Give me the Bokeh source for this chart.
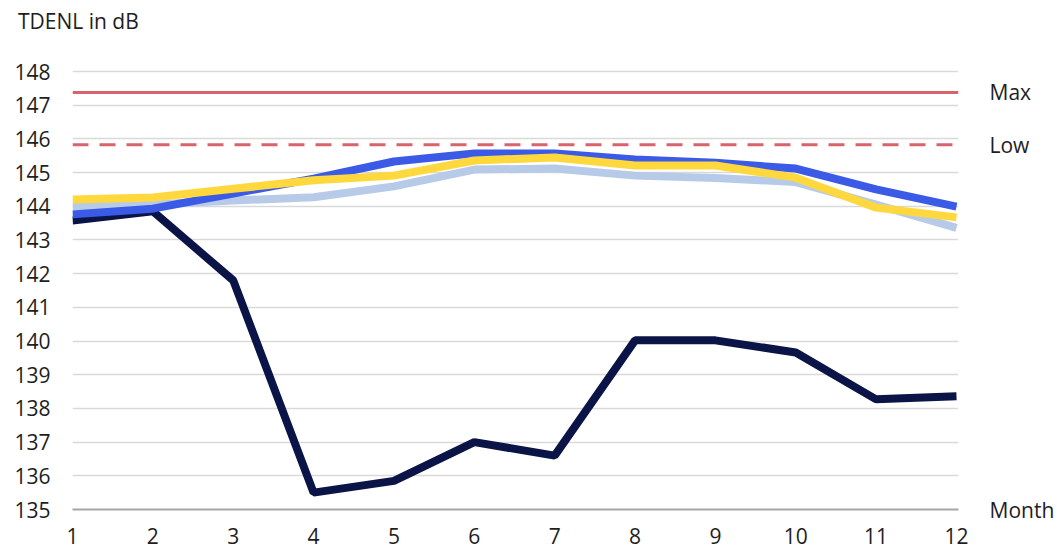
from bokeh.plotting import figure
from bokeh.models import Range1d, FixedTicker, Span, LinearAxis, Div
from bokeh.layouts import column
from bokeh.embed import file_html
from bokeh.resources import INLINE

FONT = "Open Sans"
TXT = "#1e1e1e"

title_text = "TDENL in dB"
months = [1, 2, 3, 4, 5, 6, 7, 8, 9, 10, 11, 12]
y_ticks = [135, 136, 137, 138, 139, 140, 141, 142, 143, 144, 145, 146, 147, 148]

navy = [143.58, 143.85, 141.8, 135.5, 135.85, 137.0, 136.6, 140.02, 140.02, 139.66, 138.27, 138.36]
light_blue = [143.99, 144.05, 144.17, 144.27, 144.59, 145.09, 145.12, 144.91, 144.84, 144.72, 144.05, 143.36]
blue = [143.76, 143.93, 144.38, 144.82, 145.33, 145.57, 145.57, 145.39, 145.29, 145.12, 144.5, 143.99]
yellow = [144.2, 144.26, 144.52, 144.77, 144.91, 145.36, 145.45, 145.21, 145.21, 144.85, 143.96, 143.67]

max_level = 147.38
low_level = 145.83
right_labels = {147.38: "Max", 145.83: "Low", 135: "Month"}

head = Div(text=f'<div style="margin:7px 0 0 18px; font-family:\'{FONT}\'; font-size:21px; '
                f'line-height:normal; color:{TXT}; white-space:nowrap;">{title_text}</div>',
           width=1057, height=40, margin=0)

p = figure(width=1057, height=510, output_backend="svg", toolbar_location=None,
           x_range=Range1d(1, 12.025), y_range=Range1d(135, 148.06),
           min_border_left=72, min_border_right=91, min_border_top=29, min_border_bottom=41,
           margin=0)
p.outline_line_color = None
p.background_fill_color = "white"
p.border_fill_color = "white"

p.xgrid.grid_line_color = None
p.ygrid.grid_line_color = "#d9d9d9"
p.ygrid.grid_line_width = 1.5

p.xaxis.ticker = FixedTicker(ticks=months)
p.yaxis.ticker = FixedTicker(ticks=y_ticks)

raxis = LinearAxis(ticker=FixedTicker(ticks=list(right_labels.keys())),
                   major_label_overrides=right_labels)
p.add_layout(raxis, "right")

for ax in (p.xaxis[0], p.yaxis[0], raxis):
    ax.major_tick_line_color = None
    ax.minor_tick_line_color = None
    ax.major_label_text_font = FONT
    ax.major_label_text_font_size = "21px"
    ax.major_label_text_color = TXT
p.yaxis[0].axis_line_color = None
p.yaxis[0].major_label_standoff = 16
raxis.axis_line_color = None
raxis.major_label_standoff = 25
p.xaxis.axis_line_color = "#a6a6a6"
p.xaxis.axis_line_width = 2
p.xaxis.major_label_standoff = 12

red = "#d9636b"
p.add_layout(Span(location=max_level, dimension="width", line_color=red, line_width=3))
p.add_layout(Span(location=low_level, dimension="width", line_color=red, line_width=3,
                  line_dash="16 11"))

lw = 8
p.line(months, navy, line_color="#0b1446", line_width=lw)
p.line(months, light_blue, line_color="#b7cbe8", line_width=lw)
p.line(months, blue, line_color="#3b5be6", line_width=lw)
p.line(months, yellow, line_color="#ffd83e", line_width=lw)

layout = column(head, p, spacing=0, margin=0)
open("out.html", "w").write(file_html(layout, INLINE))
